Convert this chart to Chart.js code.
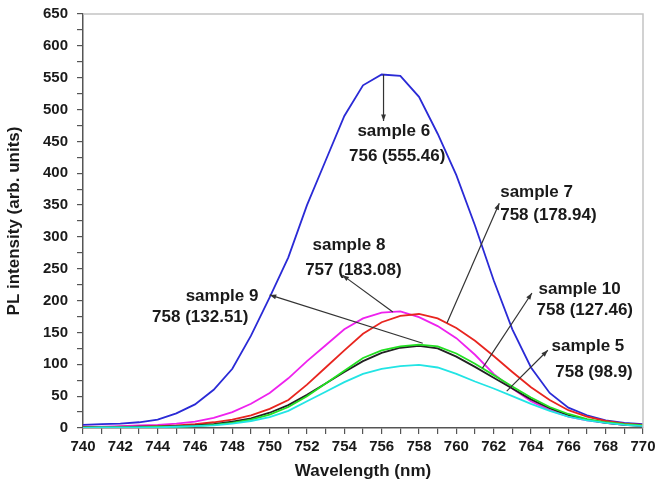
<!DOCTYPE html>
<html lang="en">
<head>
    <meta charset="UTF-8">
    <title>PL spectra</title>
    <script src="https://cdn.jsdelivr.net/npm/chart.js"></script>
    <style>
        body { margin: 0; padding: 0; background-color: white; }
        #wrap { width: 670px; height: 486px; }
    </style>
</head>
<body>
    <div id="wrap"><canvas id="plChart" width="670" height="486"></canvas></div>

    <script>
        // wavelength (nm), one point per nm
        const wavelengths = [740, 741, 742, 743, 744, 745, 746, 747, 748, 749, 750, 751, 752, 753, 754, 755,
                             756, 757, 758, 759, 760, 761, 762, 763, 764, 765, 766, 767, 768, 769, 770];

        const sample6 = [5, 6, 7, 9, 13, 23, 37, 60, 93, 145, 205, 268, 350, 420, 490, 538,
                         555, 553, 520, 462, 397, 318, 232, 155, 95, 55, 32, 20, 12, 8, 6];
        const sample8 = [2, 2, 3, 4, 5, 7, 10, 16, 25, 38, 55, 78, 105, 130, 155, 172,
                         181, 183, 174, 160, 141, 115, 85, 62, 42, 28, 18, 12, 8, 5, 4];
        const sample7 = [1, 1, 2, 2, 3, 4, 6, 9, 13, 20, 30, 44, 68, 95, 122, 148,
                         166, 176, 179, 172, 157, 137, 113, 88, 64, 44, 28, 18, 11, 7, 5];
        const sample9 = [1, 1, 1, 2, 2, 3, 4, 6, 10, 15, 24, 36, 52, 70, 88, 105,
                         118, 126, 129, 125, 112, 96, 79, 62, 45, 31, 20, 13, 8, 5, 3];
        const sample10 = [1, 1, 1, 1, 2, 2, 3, 5, 8, 13, 21, 33, 50, 70, 90, 110,
                          122, 128, 131, 128, 117, 101, 83, 65, 48, 33, 22, 14, 9, 6, 4];
        const sample5 = [0, 1, 1, 1, 1, 2, 3, 4, 7, 11, 17, 27, 42, 57, 72, 85,
                         93, 97, 99, 95, 85, 73, 62, 50, 38, 27, 18, 12, 8, 5, 3];

        const xTickLabels = [740, 742, 744, 746, 748, 750, 752, 754, 756, 758, 760, 762, 764, 766, 768, 770];
        const yTickLabels = [0, 50, 100, 150, 200, 250, 300, 350, 400, 450, 500, 550, 600, 650];

        // callouts: text lines and arrows, in data units
        const notes = [
            { lines: [["sample 6", 754.7, 466], ["756 (555.46)", 754.25, 427]], from: [756.1, 555], to: [756.1, 482] },
            { lines: [["sample 7", 762.35, 370], ["758 (178.94)", 762.35, 334]], from: [759.5, 165], to: [762.3, 353] },
            { lines: [["sample 8", 752.3, 287], ["757 (183.08)", 751.9, 248]], from: [756.6, 182], to: [753.9, 240] },
            { lines: [["sample 9", 745.5, 206], ["758 (132.51)", 743.7, 173]], from: [758.2, 133], to: [750.0, 209] },
            { lines: [["sample 10", 764.4, 218], ["758 (127.46)", 764.3, 185]], from: [761.4, 94], to: [764.05, 212] },
            { lines: [["sample 5", 765.1, 129], ["758 (98.9)", 765.3, 88]], from: [762.7, 58], to: [764.9, 122] }
        ];

        const fontName = "'Liberation Sans', Arial, sans-serif";
        const tickFont = { family: fontName, weight: 'bold', size: 15 };
        const titleFont = { family: fontName, weight: 'bold', size: 17 };

        function series(values, color) {
            return {
                data: values.map((v, i) => ({ x: wavelengths[i], y: v })),
                borderColor: color,
                backgroundColor: color,
                borderWidth: 1.8,
                pointRadius: 0,
                tension: 0,
                fill: false
            };
        }

        const notePlugin = {
            id: 'notes',
            afterDatasetsDraw(chart) {
                const { ctx, chartArea: a } = chart;
                const xs = chart.scales.x, ys = chart.scales.y;
                ctx.save();
                // light frame on top and right
                ctx.strokeStyle = '#c4c4c4';
                ctx.lineWidth = 1.5;
                ctx.beginPath();
                ctx.moveTo(a.left, a.top);
                ctx.lineTo(a.right, a.top);
                ctx.lineTo(a.right, a.bottom);
                ctx.stroke();

                notes.forEach(n => {
                    const x1 = xs.getPixelForValue(n.from[0]), y1 = ys.getPixelForValue(n.from[1]);
                    const x2 = xs.getPixelForValue(n.to[0]), y2 = ys.getPixelForValue(n.to[1]);
                    ctx.strokeStyle = '#333';
                    ctx.fillStyle = '#333';
                    ctx.lineWidth = 1.2;
                    ctx.beginPath();
                    ctx.moveTo(x1, y1);
                    ctx.lineTo(x2, y2);
                    ctx.stroke();
                    const ang = Math.atan2(y2 - y1, x2 - x1);
                    ctx.beginPath();
                    ctx.moveTo(x2, y2);
                    ctx.lineTo(x2 - 7 * Math.cos(ang - 0.35), y2 - 7 * Math.sin(ang - 0.35));
                    ctx.lineTo(x2 - 7 * Math.cos(ang + 0.35), y2 - 7 * Math.sin(ang + 0.35));
                    ctx.closePath();
                    ctx.fill();

                    ctx.fillStyle = '#1a1a1a';
                    ctx.font = "bold 17px " + fontName;
                    ctx.textAlign = 'left';
                    ctx.textBaseline = 'middle';
                    n.lines.forEach(l => {
                        ctx.fillText(l[0], xs.getPixelForValue(l[1]), ys.getPixelForValue(l[2]));
                    });
                });
                ctx.restore();
            }
        };

        new Chart(document.getElementById('plChart').getContext('2d'), {
            type: 'line',
            data: {
                datasets: [
                    series(sample5, '#22e4e4'),
                    series(sample10, '#22e022'),
                    series(sample9, '#222222'),
                    series(sample7, '#e8251f'),
                    series(sample8, '#ee22ee'),
                    series(sample6, '#2a2ad6')
                ]
            },
            options: {
                responsive: false,
                animation: false,
                layout: { padding: { top: 14, right: 27, left: 0, bottom: 0 } },
                plugins: { legend: { display: false }, tooltip: { enabled: false } },
                scales: {
                    x: {
                        type: 'linear',
                        min: 740,
                        max: 770,
                        afterFit: s => { s.height = 58; s.paddingLeft = 0; s.paddingRight = 0; },
                        ticks: {
                            stepSize: 1,
                            autoSkip: false,
                            maxRotation: 0,
                            padding: 4,
                            color: '#1a1a1a',
                            font: tickFont,
                            callback: v => xTickLabels.includes(v) ? String(v) : ''
                        },
                        grid: { drawOnChartArea: false, tickLength: 6, color: '#555', lineWidth: 1.2 },
                        border: { color: '#555', width: 1.5 },
                        title: {
                            display: true,
                            text: 'Wavelength (nm)',
                            color: '#1a1a1a',
                            font: titleFont,
                            padding: { top: 2 }
                        }
                    },
                    y: {
                        min: 0,
                        max: 650,
                        afterFit: s => { s.width = 83; s.paddingTop = 0; s.paddingBottom = 0; },
                        ticks: {
                            stepSize: 25,
                            autoSkip: false,
                            padding: 9,
                            color: '#1a1a1a',
                            font: tickFont,
                            callback: v => yTickLabels.includes(v) ? String(v) : ''
                        },
                        grid: { drawOnChartArea: false, tickLength: 6, color: '#555', lineWidth: 1.2 },
                        border: { color: '#555', width: 1.5 },
                        title: {
                            display: true,
                            text: 'PL intensity (arb. units)',
                            color: '#1a1a1a',
                            font: titleFont,
                            padding: { bottom: 4 }
                        }
                    }
                }
            },
            plugins: [notePlugin]
        });
    </script>
</body>
</html>
